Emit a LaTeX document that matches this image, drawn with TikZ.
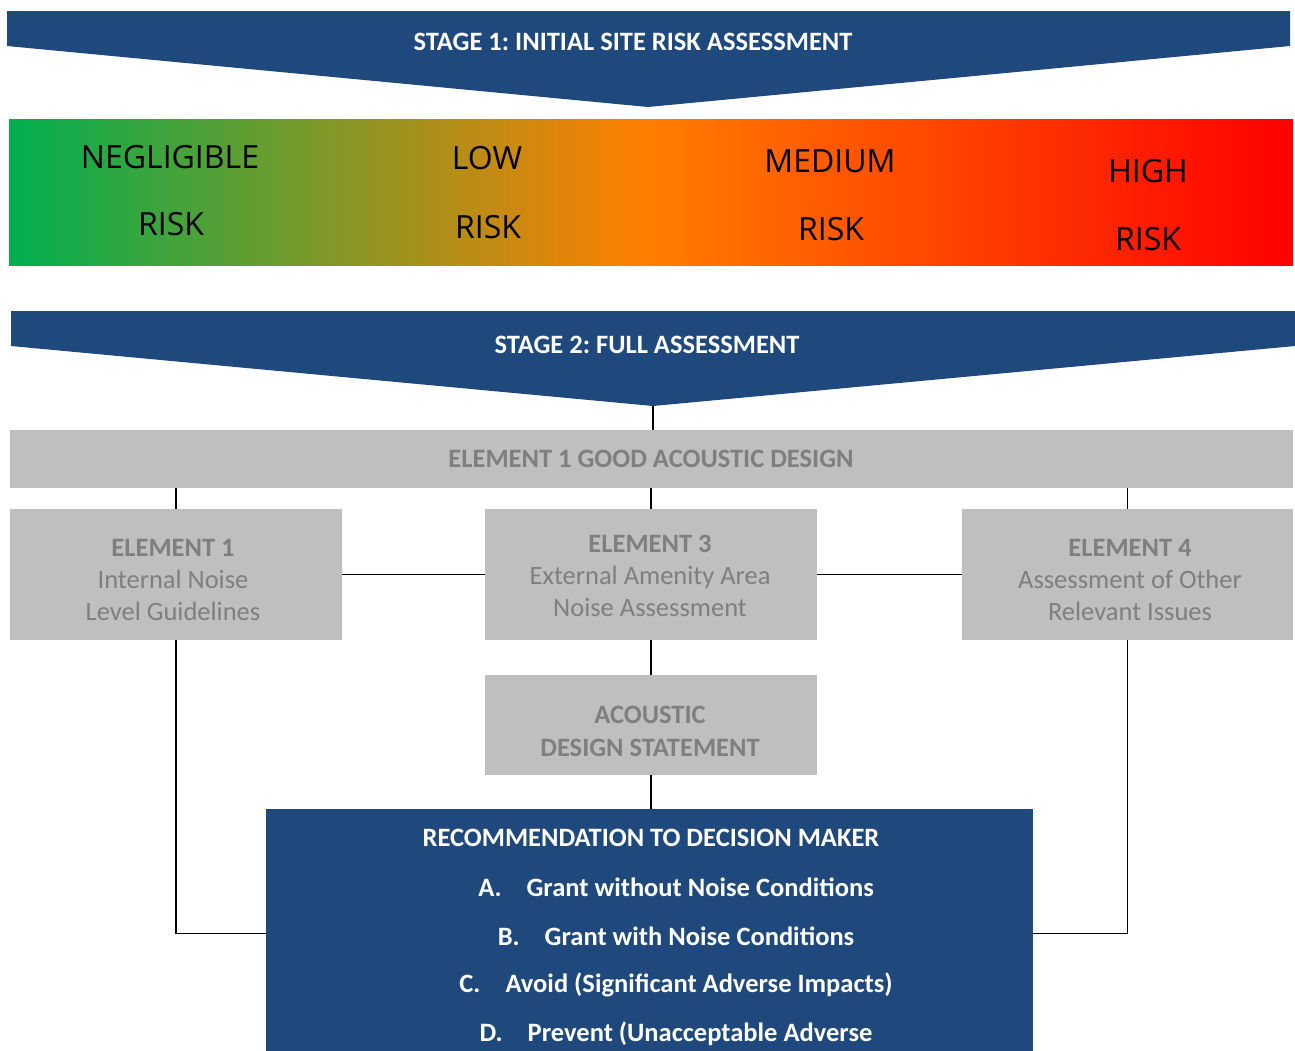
\documentclass[tikz,border=0pt]{standalone}
\usepackage{fontspec}
\setmainfont{Carlito}
\newfontfamily\risquefont{Open Sans}
\usepackage{xcolor}
\usetikzlibrary{calc,positioning}
\definecolor{bleufonce}{RGB}{31,73,125}
\definecolor{grisclair}{RGB}{191,191,191}
\definecolor{gristexte}{RGB}{127,127,127}
\definecolor{vertrisque}{RGB}{0,176,80}
\definecolor{orangerisque}{RGB}{255,127,0}
\definecolor{rougerisque}{RGB}{255,0,0}
\frenchspacing
\tikzstyle{titre-etape}=[text=white,inner sep=0pt,font=\fontsize{26.5}{30}\selectfont\bfseries]
\tikzstyle{texte-risque}=[text=black,inner sep=0pt,font=\risquefont\fontsize{32}{36}\selectfont]
\tikzstyle{boite-grise}=[fill=grisclair,inner sep=0pt]
\tikzstyle{texte-gris}=[text=gristexte,inner sep=0pt,align=center,font=\fontsize{26.5}{32}\selectfont]
\tikzstyle{boite-bleue}=[fill=bleufonce,inner sep=0pt]
\tikzstyle{ligne-reco}=[text=white,inner sep=0pt,font=\fontsize{26.5}{30}\selectfont\bfseries]
\tikzstyle{lien}=[draw=black,line width=1.4pt]

\begin{document}
\begin{tikzpicture}[x=1pt,y=-1pt]
\clip (0,0) rectangle (1295,1050);
% etape 1
\fill[bleufonce] (7,11) -- (1290,11) -- (1290,46) -- (648,107) -- (7,46) -- cycle;
\node[titre-etape] (etape1) at (633,42) {STAGE 1: INITIAL SITE RISK ASSESSMENT};

% barre des risques
\shade[left color=vertrisque,right color=orangerisque] (9,119) rectangle (641,265);
\shade[left color=orangerisque,right color=rougerisque] (640,119) rectangle (1293,265);
\node[texte-risque] (negl1) at (170,157) {NEGLIGIBLE};
\node[texte-risque] (negl2) at (171,224) {RISK};
\node[texte-risque] (low1) at (487,158) {LOW};
\node[texte-risque] (low2) at (488,227) {RISK};
\node[texte-risque] (med1) at (830,161) {MEDIUM};
\node[texte-risque] (med2) at (831,229) {RISK};
\node[texte-risque] (high1) at (1148,171) {HIGH};
\node[texte-risque] (high2) at (1148,239) {RISK};

% etape 2
\fill[bleufonce] (11,311) -- (1295,311) -- (1295,346) -- (653,406) -- (11,346) -- cycle;
\coordinate (pointe2) at (653,406);
\node[titre-etape] (etape2) at (647,345) {STAGE 2: FULL ASSESSMENT};

% elements
\node[boite-grise,minimum width=1283pt,minimum height=58pt] (bonne) at (651.5,459) {};
\node[texte-gris,font=\fontsize{26.5}{30}\selectfont\bfseries] (bonne-txt) at (651,459) {ELEMENT 1 GOOD ACOUSTIC DESIGN};
\node[boite-grise,minimum width=332pt,minimum height=131pt] (elem1) at (176,574.5) {};
\node[texte-gris] (elem1-txt) at (173,580) {\textbf{ELEMENT 1}\\Internal Noise\\Level Guidelines};
\node[boite-grise,minimum width=332pt,minimum height=131pt] (elem3) at (651,574.5) {};
\node[texte-gris] (elem3-txt) at (650,576) {\textbf{ELEMENT 3}\\External Amenity Area\\Noise Assessment};
\node[boite-grise,minimum width=331pt,minimum height=131pt] (elem4) at (1127.5,574.5) {};
\node[texte-gris] (elem4-txt) at (1130,580) {\textbf{ELEMENT 4}\\Assessment of Other\\Relevant Issues};
\node[boite-grise,minimum width=332pt,minimum height=100pt] (declaration) at (651,725) {};
\node[texte-gris,font=\fontsize{26.5}{33}\selectfont\bfseries] (declaration-txt) at (650,731) {ACOUSTIC\\DESIGN STATEMENT};

% recommandation
\node[boite-bleue,minimum width=767pt,minimum height=248pt,anchor=north] (reco) at (649.5,809) {};
\node[ligne-reco] (recotitre) at (651,838) {RECOMMENDATION TO DECISION MAKER};
\node[ligne-reco] (recoA) at (676,887) {A.\hspace{25pt}Grant without Noise Conditions};
\node[ligne-reco] (recoB) at (676,936) {B.\hspace{25pt}Grant with Noise Conditions};
\node[ligne-reco] (recoC) at (676,985) {C.\hspace{25pt}Avoid (Significant Adverse Impacts)};
\node[ligne-reco] (recoD) at (676,1034) {D.\hspace{25pt}Prevent (Unacceptable Adverse};

% liens
\draw[lien] (pointe2) -- (pointe2 |- bonne.north);
\draw[lien] (bonne.south -| elem1) -- (elem1.north);
\draw[lien] (bonne.south -| elem3) -- (elem3.north);
\draw[lien] (bonne.south -| elem4) -- (elem4.north);
\draw[lien] (elem1) -- (elem3);
\draw[lien] (elem3) -- (elem4);
\draw[lien] (elem3) -- (declaration);
\draw[lien] (declaration.south) -- (declaration.south |- reco.north);
\draw[lien] (elem1.south) |- (reco.west);
\draw[lien] (elem4.south) |- (reco.east);
\end{tikzpicture}
\end{document}
